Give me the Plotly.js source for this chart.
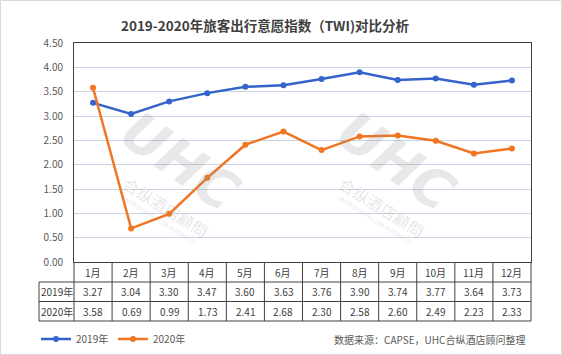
<!DOCTYPE html>
<html><head><meta charset="utf-8">
<script src="https://cdn.plot.ly/plotly-3.0.1.min.js"></script>
<style>html,body{margin:0;padding:0;background:#fff}#c{width:562px;height:355px}</style>
</head><body><div id="c"></div>
<script>
const months = ['1月','2月','3月','4月','5月','6月','7月','8月','9月','10月','11月','12月'];
const series2019 = [3.27,3.04,3.30,3.47,3.60,3.63,3.76,3.90,3.74,3.77,3.64,3.73];
const series2020 = [3.58,0.69,0.99,1.73,2.41,2.68,2.30,2.58,2.60,2.49,2.23,2.33];
const seriesNames = ['2019年','2020年'];
const colors = ['#3563C9','#F07622'];

const W=562,H=355,L=74,R=31,T=43,B=93;
const pw=W-L-R, ph=H-T-B;
const px = v => (v-L)/pw;          // pixel x -> paper
const py = v => (H-B-v)/ph;        // pixel y -> paper
const idx = months.map((m,i)=>i);

const traces = [series2019, series2020].map((s,k)=>({
  x: idx, y: s, type:'scatter', mode:'lines+markers', name: seriesNames[k],
  line:{color:colors[k], width:2.5}, marker:{color:colors[k], size:6}
}));

const rowY = [272, 291.5, 311];
const ann = [];
// watermarks (drawn first so they sit underneath other text)
[[180,165],[396,165]].forEach(([cx,cy])=>{
  ann.push({x:px(cx), xref:'paper', y:py(cy-4), yref:'paper', text:'<b><i>UHC</i></b>', showarrow:false, xanchor:'center', yanchor:'middle', textangle:35, font:{size:54,color:'rgba(140,140,140,0.2)', family:'"DejaVu Sans", sans-serif'}});
  ann.push({x:px(cx-14), xref:'paper', y:py(cy+42), yref:'paper', text:'合纵酒店顧問', showarrow:false, xanchor:'center', yanchor:'middle', textangle:32, font:{size:16,color:'rgba(140,140,140,0.22)'}});
  ann.push({x:px(cx-22), xref:'paper', y:py(cy+54), yref:'paper', text:'UNITED HOTEL CONSULTANCY', showarrow:false, xanchor:'center', yanchor:'middle', textangle:32, font:{size:6,color:'rgba(140,140,140,0.25)'}});
});
const cell = (x, xref, y, text) => ({x, xref, y:py(y), yref:'paper', text, showarrow:false, xanchor:'center', yanchor:'middle', font:{size:10,color:'#404040'}});
months.forEach((m,i)=>{
  ann.push(cell(i,'x',rowY[0],m));
  ann.push(cell(i,'x',rowY[1],series2019[i].toFixed(2)));
  ann.push(cell(i,'x',rowY[2],series2020[i].toFixed(2)));
});
seriesNames.forEach((n,k)=>ann.push(cell(px(56.5),'paper',rowY[k+1],n)));
ann.push({x:px(527), xref:'paper', xanchor:'right', y:py(339), yref:'paper', yanchor:'middle', text:'数据来源：CAPSE，UHC合纵酒店顾问整理', showarrow:false, font:{size:10,color:'#595959'}});

const shapes = [];
const lc = '#404040';
[282,301.5,321].forEach(y=>shapes.push({type:'line', xref:'paper', yref:'paper', x0:px(39), x1:px(531), y0:py(y), y1:py(y), line:{color:lc,width:1}}));
for(let i=0;i<=12;i++){
  const x = px(L + i*pw/12);
  shapes.push({type:'line', xref:'paper', yref:'paper', x0:x, x1:x, y0:py(262), y1:py(321), line:{color:lc,width:1}});
}
shapes.push({type:'line', xref:'paper', yref:'paper', x0:px(39), x1:px(39), y0:py(282), y1:py(321), line:{color:lc,width:1}});
shapes.push({type:'rect', xref:'paper', yref:'paper', x0:px(0.5), x1:px(561.5), y0:py(0.5), y1:py(354.5), line:{color:'#d9d9d9',width:1}});

Plotly.newPlot('c', traces, {
  width:W, height:H, margin:{l:L,r:R,t:T,b:B,autoexpand:false},
  paper_bgcolor:'#fff', plot_bgcolor:'#fff',
  font:{family:'"Noto Sans CJK SC", "Noto Sans", sans-serif', color:'#595959'},
  title:{text:'<b>2019-2020年旅客出行意愿指数（TWI)对比分析</b>', xref:'container', x:265/W, xanchor:'center', yref:'container', y:1-26/H, yanchor:'middle', font:{size:13.5,color:'#404040'}},
  xaxis:{range:[-0.5,11.5], showticklabels:false, showgrid:false, zeroline:false, showline:true, mirror:true, linecolor:lc, linewidth:1, ticks:''},
  yaxis:{range:[0,4.5], dtick:0.5, tickformat:'.2f', showgrid:true, gridcolor:'#C9D4E6', gridwidth:1, zeroline:false, showline:true, mirror:true, linecolor:lc, linewidth:1, tickfont:{size:10,color:'#595959'}, ticklabelstandoff:8},
  showlegend:true,
  legend:{orientation:'h', x:px(36), xanchor:'left', y:py(339), yanchor:'middle', font:{size:10,color:'#595959'}, itemwidth:30, entrywidth:32, tracegroupgap:0, bgcolor:'rgba(0,0,0,0)'},
  annotations:ann, shapes:shapes
}, {displayModeBar:false, staticPlot:true});
</script></body></html>
